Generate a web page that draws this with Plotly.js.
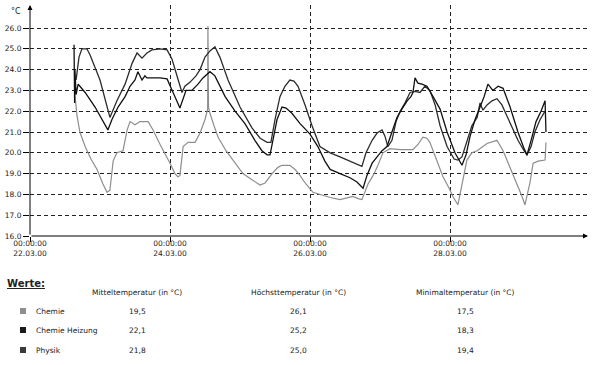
<!DOCTYPE html>
<html>
<head>
<meta charset="utf-8">
<script src="https://cdn.plot.ly/plotly-3.0.1.min.js"></script>
<style>html,body{margin:0;padding:0;background:#fff;}#chart{width:599px;height:365px;}</style>
</head>
<body>
<div id="chart"></div>
<script>
// ---- DATA (hours elapsed since 22.03.2000 00:00, temperature in °C) ----
const seriesNames = ['Chemie', 'Chemie Heizung', 'Physik'];

const chemieHours = [15.4,16.1,17.1,18.9,20.9,23.0,25.0,26.4,27.4,28.5,29.8,31.9,33.3,34.3,36.0,37.7,40.5,42.2,44.6,46.6,48.0,49.7,50.7,51.4,52.5,54.2,56.6,58.3,60.0,60.9,61.0,61.2,61.7,63.1,64.5,67.2,70.3,73.0,76.1,78.9,80.6,83.0,85.0,86.4,89.1,90.9,92.6,94.6,97.0,99.4,102.9,106.3,108.7,110.7,112.5,113.8,115.9,117.6,119.0,121.0,123.4,126.9,131.3,133.0,134.7,136.1,137.1,139.2,141.6,143.7,145.0,146.7,148.1,149.8,151.5,153.3,156.7,160.1,162.2,164.6,167.0,168.7,169.7,171.4,172.5,174.2,176.6,176.9];
const chemieTemp = [22.8,21.8,21.0,20.3,19.7,19.2,18.5,18.1,18.2,19.6,20.0,20.1,21.1,21.5,21.35,21.5,21.5,21.1,20.4,19.9,19.5,19.0,18.85,18.9,20.3,20.5,20.5,20.95,21.6,22.1,26.1,22.2,21.9,21.3,20.75,20.1,19.5,19.0,18.7,18.45,18.55,19.0,19.3,19.4,19.4,19.2,18.9,18.5,18.1,18.0,17.85,17.75,17.85,17.9,17.8,17.75,18.5,18.9,19.3,20.0,20.2,20.15,20.15,20.4,20.75,20.7,20.5,19.7,18.85,18.3,17.9,17.5,18.55,19.65,20.0,20.1,20.45,20.6,20.1,19.3,18.55,17.9,17.5,18.55,19.5,19.6,19.65,20.5];

const heizungHours = [15.1,15.3,15.4,15.8,16.5,17.1,18.9,22.3,25.0,26.7,28.1,30.2,32.6,34.3,36.0,37.0,38.4,39.4,40.1,44.6,47.0,48.0,49.7,51.4,52.5,53.5,55.5,57.6,59.3,60.7,61.7,63.4,66.9,70.3,73.7,77.1,79.5,81.3,82.3,83.7,84.7,86.4,87.8,89.8,92.6,96.0,98.7,101.1,102.9,106.3,109.7,112.1,114.2,115.5,117.3,119.0,120.7,122.4,124.1,125.8,127.5,129.3,130.6,131.3,132.0,133.0,134.4,136.1,138.2,140.6,143.0,145.7,148.1,149.5,150.9,152.6,154.3,155.7,157.0,158.7,160.5,162.2,164.6,167.3,169.4,170.4,171.8,173.5,175.2,176.6,176.9];
const heizungTemp = [25.2,22.4,24.0,22.8,23.3,23.2,22.9,22.2,21.5,21.1,21.6,22.2,22.7,23.2,23.5,23.9,23.5,23.7,23.6,23.6,23.55,23.2,22.7,22.15,22.6,23.0,23.0,23.3,23.6,23.8,23.9,23.7,22.7,22.0,21.4,20.6,20.1,19.9,19.9,20.9,21.6,22.2,22.15,21.9,21.4,20.9,20.3,19.6,19.2,19.0,18.8,18.6,18.3,18.9,19.5,19.8,20.1,20.3,21.0,21.7,22.1,22.5,22.7,22.9,23.6,23.35,23.3,23.2,22.7,22.1,21.0,20.0,19.4,19.9,20.8,21.6,22.2,22.7,23.3,23.0,23.2,23.1,22.2,21.0,20.2,19.9,20.6,21.5,22.0,22.5,21.0];

const physikHours = [15.8,16.8,17.8,19.5,20.6,24.0,27.4,29.8,32.6,35.0,36.7,38.4,40.1,41.8,44.6,47.0,48.7,50.7,52.1,53.1,54.9,56.9,58.3,60.0,61.7,63.4,65.1,67.9,72.0,76.1,78.9,81.3,82.6,84.0,85.7,87.4,89.1,90.5,91.9,94.3,96.7,99.4,102.9,106.3,109.7,112.5,113.8,115.2,117.3,119.0,120.7,121.7,122.7,124.1,125.5,126.9,128.6,130.3,132.0,133.7,135.4,137.1,138.9,140.6,143.0,145.4,146.7,148.1,149.8,151.5,153.3,154.3,155.3,156.7,158.4,160.1,161.8,164.6,167.3,169.4,170.4,171.8,173.1,174.9,176.6];
const physikTemp = [23.5,24.6,25.0,25.0,24.7,23.5,21.7,22.5,23.3,24.3,24.8,24.55,24.8,24.95,25.0,24.95,24.5,23.5,22.9,23.2,23.4,23.7,24.0,24.6,24.9,25.1,24.6,23.5,22.2,21.2,20.7,20.5,20.5,21.6,22.7,23.2,23.5,23.45,23.2,22.3,21.3,20.3,20.0,19.8,19.6,19.45,19.35,20.0,20.6,20.95,21.1,20.8,20.3,20.6,21.5,22.0,22.4,22.9,22.95,22.9,23.2,23.0,22.3,21.3,20.3,19.7,19.65,19.8,20.6,21.3,21.7,22.4,22.05,22.3,22.5,22.6,22.3,21.4,20.6,20.1,19.9,20.3,21.0,21.6,22.0];

const xTickDates = ['2000-03-22', '2000-03-24', '2000-03-26', '2000-03-28'];
const xTickText = ['00:00:00<br>22.03.00', '00:00:00<br>24.03.00', '00:00:00<br>26.03.00', '00:00:00<br>28.03.00'];
const yTickVals = [16, 17, 18, 19, 20, 21, 22, 23, 24, 25, 26];

const tableHeaders = ['Mitteltemperatur (in °C)', 'Höchsttemperatur (in °C)', 'Minimaltemperatur (in °C)'];
const meanTemps = ['19,5', '22,1', '21,8'];
const maxTemps = ['26,1', '25,2', '25,0'];
const minTemps = ['17,5', '18,3', '19,4'];

// ---- helpers ----
function hoursToDate(h) {
  const base = Date.UTC(2000, 2, 22);
  const d = new Date(base + h * 3600000);
  const p = n => String(n).padStart(2, '0');
  return d.getUTCFullYear() + '-' + p(d.getUTCMonth() + 1) + '-' + p(d.getUTCDate()) + ' ' +
    p(d.getUTCHours()) + ':' + p(d.getUTCMinutes()) + ':' + p(d.getUTCSeconds());
}

const W = 599, H = 365;
const M = {l: 30, r: 11, t: 5, b: 129};
const PW = W - M.l - M.r, PH = H - M.t - M.b;
const px = x => (x - M.l) / PW;           // pixel x -> paper
const py = y => (H - M.b - y) / PH;       // pixel y -> paper

const colors = ['#8e8e8e', '#111111', '#2c2c2c'];
const FONT = 'DejaVu Sans';

const traces = [
  {x: chemieHours.map(hoursToDate), y: chemieTemp, name: seriesNames[0],
   type: 'scatter', mode: 'lines', line: {color: colors[0], width: 1.2}},
  {x: physikHours.map(hoursToDate), y: physikTemp, name: seriesNames[2],
   type: 'scatter', mode: 'lines', line: {color: colors[2], width: 1.3}},
  {x: heizungHours.map(hoursToDate), y: heizungTemp, name: seriesNames[1],
   type: 'scatter', mode: 'lines', line: {color: colors[1], width: 1.3}}
];

function label(xp, yp, text, opts) {
  return Object.assign({xref: 'paper', yref: 'paper', x: px(xp), y: py(yp), text: text,
    showarrow: false, xanchor: 'center', yanchor: 'middle',
    font: {family: FONT, size: 7.5, color: '#222'}}, opts || {});
}

const annotations = [
  // axis arrows
  {xref: 'paper', yref: 'paper', x: 0, y: 1, ax: 0, ay: PH, axref: 'pixel', ayref: 'pixel',
   showarrow: true, arrowhead: 2, arrowsize: 1, arrowwidth: 1, arrowcolor: '#000', text: '', standoff: 0, startstandoff: 0},
  {xref: 'paper', yref: 'paper', x: 1, y: 0, ax: -PW, ay: 0, axref: 'pixel', ayref: 'pixel',
   showarrow: true, arrowhead: 2, arrowsize: 1, arrowwidth: 1, arrowcolor: '#000', text: '', standoff: 0, startstandoff: 0},
  label(16, 11, '°C', {font: {family: FONT, size: 8, color: '#222'}}),
  label(5, 283, '<b><u>Werte:</u></b>', {xanchor: 'left', font: {family: FONT, size: 10, color: '#222'}})
];

const colX = [137, 298, 465];
tableHeaders.forEach((t, i) => annotations.push(label(colX[i], 292, t)));

const rowY = [311, 330, 350];
const swatchColors = ['#8e8e8e', '#1a1a1a', '#3a3a3a'];
const shapes = [];
seriesNames.forEach((name, s) => {
  annotations.push(label(34, rowY[s], name, {xanchor: 'left'}));
  [meanTemps, maxTemps, minTemps].forEach((arr, c) => annotations.push(label(colX[c], rowY[s], arr[s])));
  shapes.push({type: 'rect', xref: 'paper', yref: 'paper',
    x0: px(20), x1: px(26), y0: py(rowY[s] + 3), y1: py(rowY[s] - 3),
    fillcolor: swatchColors[s], line: {width: 0}});
});

const layout = {
  width: W, height: H,
  margin: M,
  paper_bgcolor: '#fff', plot_bgcolor: '#fff',
  showlegend: false,
  font: {family: FONT, size: 7.5, color: '#222'},
  xaxis: {
    type: 'date',
    range: [hoursToDate(0), hoursToDate(PW / 70 * 24)],
    tickmode: 'array', tickvals: xTickDates, ticktext: xTickText,
    showgrid: true, gridcolor: '#222', gridwidth: 1, griddash: '4px,3px',
    showline: false, zeroline: false,
    ticks: 'outside', ticklen: 5, tickcolor: '#000', tickwidth: 1,
    ticklabelstandoff: -5,
    tickfont: {family: FONT, size: 7.5, color: '#222'},
    fixedrange: true
  },
  yaxis: {
    range: [16, 16 + PH / 20.8],
    tickmode: 'array', tickvals: yTickVals, tickformat: '.1f',
    showgrid: true, gridcolor: '#222', gridwidth: 1, griddash: '4px,3px',
    showline: false, zeroline: false,
    ticks: 'outside', ticklen: 6, tickcolor: '#000', tickwidth: 1,
    tickfont: {family: FONT, size: 7.5, color: '#222'},
    fixedrange: true
  },
  annotations: annotations,
  shapes: shapes
};

Plotly.newPlot('chart', traces, layout, {displayModeBar: false, staticPlot: true});
</script>
</body>
</html>
